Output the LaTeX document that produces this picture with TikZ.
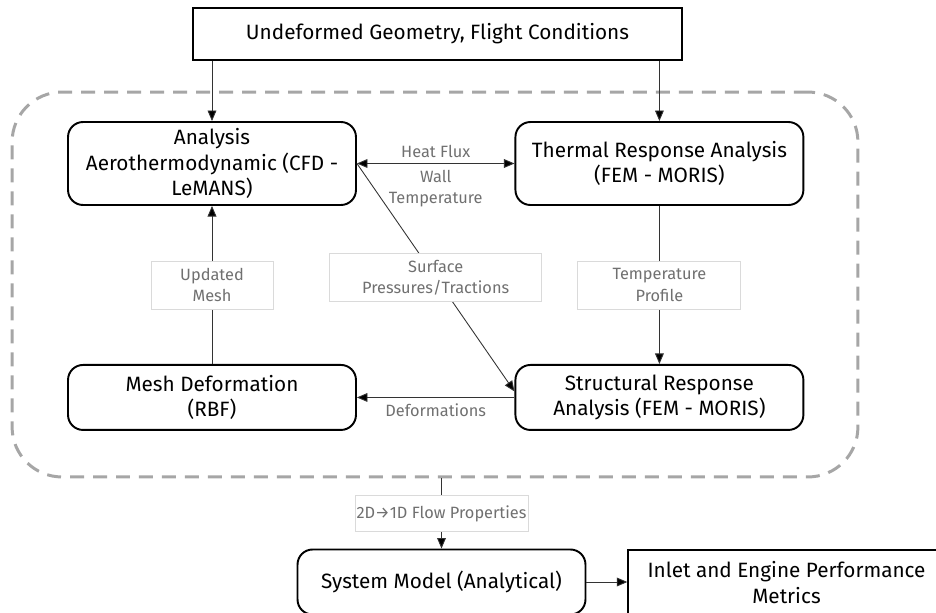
\documentclass[tikz,border=0pt]{standalone}
\usepackage{fontspec}
\setmainfont{Fira Sans}
\usetikzlibrary{positioning, arrows.meta, calc}

\definecolor{notegray}{HTML}{707070}
\definecolor{framegray}{HTML}{A6A6A6}
\definecolor{taggray}{HTML}{DADADA}

\begin{document}
\begin{tikzpicture}[x=0.02cm, y=-0.02cm, node distance=4.68cm and 8.95cm, on grid,
  >={Triangle[length=6pt, width=5pt]},
  block/.style={draw, line width=1.1pt, rounded corners=0.3cm, align=center,
    minimum width=5.76cm, minimum height=1.66cm, font=\fontsize{11.8}{14.6}\selectfont},
  plainbox/.style={draw, line width=0.8pt, align=center, font=\fontsize{11.8}{14.6}\selectfont},
  frame/.style={draw=framegray, line width=1.7pt, rounded corners=1cm,
    dash pattern=on 0.28cm off 0.18cm},
  tag/.style={draw=taggray, fill=white, text=notegray, align=center, inner sep=0pt,
    minimum height=0.96cm, font=\fontsize{9.3}{12}\selectfont},
  note/.style={text=notegray, align=center, font=\fontsize{9.3}{12}\selectfont},
  flow/.style={draw=black!80, line width=0.5pt}]

  \useasboundingbox (0,0) rectangle (936,612);

  \node[plainbox, minimum width=9.78cm, minimum height=1.04cm] (geom) at (437.5,34) {Undeformed Geometry, Flight Conditions};

  \node[block] (aero) at (212,163.5) {Analysis\\Aerothermodynamic (CFD -\\LeMANS)};
  \node[block] (thermal) [right=of aero] {Thermal Response Analysis\\(FEM - MORIS)};
  \node[block, minimum height=1.3cm] (mesh) [below=of aero] {Mesh Deformation\\(RBF)};
  \node[block, minimum height=1.3cm] (struct) [below=of thermal] {Structural Response\\Analysis (FEM - MORIS)};

  % coupled loop around the four solvers
  \node[frame, minimum width=16.92cm, minimum height=7.7cm] (loop) at (435,284.5) {};

  \node[block, minimum height=1.3cm] (system) at (441.5,582) {System Model (Analytical)};
  \node[plainbox, minimum width=6.34cm, minimum height=1.3cm] (metrics) at (786.5,582.5) {Inlet and Engine Performance\\Metrics};

  \path[flow]
  (geom.south -| aero.north) edge[->] (aero.north)
  (geom.south -| thermal.north) edge[->] (thermal.north)
  (aero.east) edge[<->] node[note, above] {Heat Flux} node[note, below] {Wall\\Temperature} (thermal.west)
  (aero.east) edge[->] node[tag, minimum width=4.24cm] {Surface\\Pressures/Tractions} ([yshift=0.12cm]struct.west)
  (thermal.south) edge[->] node[tag, minimum width=3.26cm] {Temperature\\Profile} (struct.north)
  (mesh.north) edge[->] node[tag, minimum width=2.44cm] {Updated\\Mesh} (aero.south)
  (struct.west) edge[->] node[note, below] {Deformations} (mesh.east)
  (loop.south -| system.north) edge[->] node[tag, minimum width=3.46cm, minimum height=0.72cm] {2D→1D Flow Properties} (system.north)
  (system.east) edge[->] (system.east -| metrics.west);
\end{tikzpicture}
\end{document}
